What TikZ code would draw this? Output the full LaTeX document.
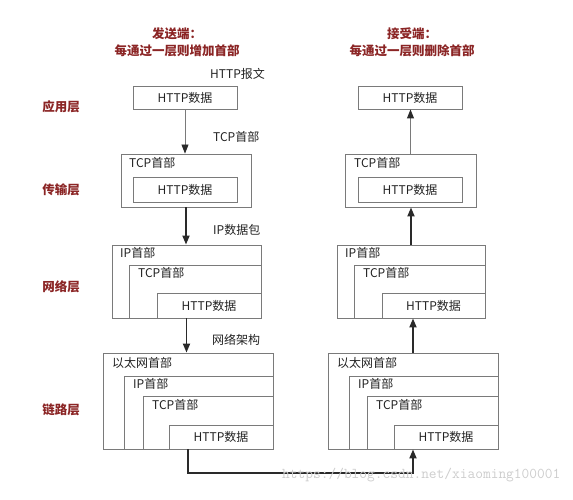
\documentclass[tikz,border=0pt]{standalone}
\usepackage{fontspec}
\setmainfont{Noto Sans CJK SC}
\usetikzlibrary{arrows.meta,fit}
\definecolor{boxgray}{HTML}{7A7A7A}
\definecolor{layerred}{HTML}{8B2525}
\definecolor{txt}{HTML}{222222}
\definecolor{wmgray}{HTML}{CDCDCD}
\definecolor{arrdark}{HTML}{2A2A2A}
\tikzset{
  box/.style={draw=boxgray, line width=0.9pt, inner sep=0pt},
  ctext/.style={inner sep=0pt, text=txt, font=\fontsize{12}{14}\selectfont},
  intext/.style={anchor=west, inner sep=0pt, text=txt, font=\fontsize{12}{14}\selectfont},
  layer/.style={inner sep=0pt, text=layerred, font=\bfseries\fontsize{12.5}{14}\selectfont},
  titletext/.style={inner sep=0pt, text=layerred, align=center,
    font=\bfseries\fontsize{12.5}{17}\selectfont},
  lightarrow/.style={draw=boxgray, line width=0.9pt,
    -{Triangle[length=9pt,width=7pt,color=arrdark]}},
  heavyarrow/.style={draw=arrdark, line width=1.8pt, -{Triangle[length=9pt,width=7pt]}},
}
\begin{document}
\begin{tikzpicture}[x=1pt,y=-1pt]
\useasboundingbox (0,0) rectangle (573,500);

% titles
\node[titletext] (titleL) at (177,42) {发送端：\\每通过一层则增加首部};
\node[titletext] (titleR) at (412,42) {接受端：\\每通过一层则删除首部};

% layer labels
\node[layer] (lapp) at (61,107) {应用层};
\node[layer] (ltr)  at (61,190) {传输层};
\node[layer] (lnet) at (61,287) {网络层};
\node[layer] (llnk) at (61,410) {链路层};

% ---------- sender ----------
\node[box, fit={(133,86)(237,109)}] (a1) {};
\node[ctext] (a1x) at (a1.center) {HTTP数据};

\node[box, fit={(121,154)(251,207)}] (t1) {};
\node[intext] (t1h) at (129,163) {TCP首部};
\node[box, fit={(133,177)(237,202)}] (t1d) {};
\node[ctext] (t1dx) at (t1d.center) {HTTP数据};

\node[box, fit={(112,245)(261,318)}] (n1) {};
\node[intext] (n1ip) at (120,253) {IP首部};
\node[box, fit={(129,265)(261,318)}] (n1t) {};
\node[intext] (n1tcp) at (138,273) {TCP首部};
\node[box, fit={(157,293)(261,318)}] (n1d) {};
\node[ctext] (n1dx) at (n1d.center) {HTTP数据};

\node[box, fit={(103,353)(273,449)}] (l1) {};
\node[intext] (l1e) at (112,363) {以太网首部};
\node[box, fit={(124,376)(273,449)}] (l1i) {};
\node[intext] (l1ip) at (133,384) {IP首部};
\node[box, fit={(143,396)(273,449)}] (l1t) {};
\node[intext] (l1tcp) at (152,405) {TCP首部};
\node[box, fit={(169,425)(273,449)}] (l1d) {};
\node[ctext] (l1dx) at (l1d.center) {HTTP数据};

% side labels
\node[intext] (s1) at (210,74) {HTTP报文};
\node[intext] (s2) at (213,137) {TCP首部};
\node[intext] (s3) at (213,230) {IP数据包};
\node[intext] (s4) at (212,340) {网络架构};

% ---------- receiver ----------
\node[box, fit={(358,86)(462,109)}] (a2) {};
\node[ctext] (a2x) at (a2.center) {HTTP数据};

\node[box, fit={(345,154)(476,207)}] (t2) {};
\node[intext] (t2h) at (354,163) {TCP首部};
\node[box, fit={(358,177)(462,202)}] (t2d) {};
\node[ctext] (t2dx) at (t2d.center) {HTTP数据};

\node[box, fit={(337,245)(485,318)}] (n2) {};
\node[intext] (n2ip) at (345,253) {IP首部};
\node[box, fit={(354,265)(485,318)}] (n2t) {};
\node[intext] (n2tcp) at (363,273) {TCP首部};
\node[box, fit={(382,293)(485,318)}] (n2d) {};
\node[ctext] (n2dx) at (n2d.center) {HTTP数据};

\node[box, fit={(328,353)(498,449)}] (l2) {};
\node[intext] (l2e) at (337,363) {以太网首部};
\node[box, fit={(349,376)(498,449)}] (l2i) {};
\node[intext] (l2ip) at (358,384) {IP首部};
\node[box, fit={(367,396)(498,449)}] (l2t) {};
\node[intext] (l2tcp) at (376,405) {TCP首部};
\node[box, fit={(394,425)(498,449)}] (l2d) {};
\node[ctext] (l2dx) at (l2d.center) {HTTP数据};

% ---------- connectors ----------
\draw[lightarrow] (a1.south) -- (a1.south |- t1.north);
\draw[heavyarrow] (t1.south) -- (t1.south |- n1.north);
\draw[heavyarrow] (n1.south) -- (n1.south |- l1.north);

\coordinate (low) at (300,473);
\draw[heavyarrow] (l1.south) |- (low) -| (l2.south);

\draw[heavyarrow] (l2.north) -- (l2.north |- n2.south);
\draw[heavyarrow] (n2.north) -- (n2.north |- t2.south);
\draw[lightarrow] (t2.north) -- (t2.north |- a2.south);

% watermark
\node[anchor=west, inner sep=0pt, text=wmgray, font=\ttfamily\fontsize{15}{16}\selectfont]
  (wm) at (282,475) {https://blog.csdn.net/xiaoming100001};
\end{tikzpicture}
\end{document}
